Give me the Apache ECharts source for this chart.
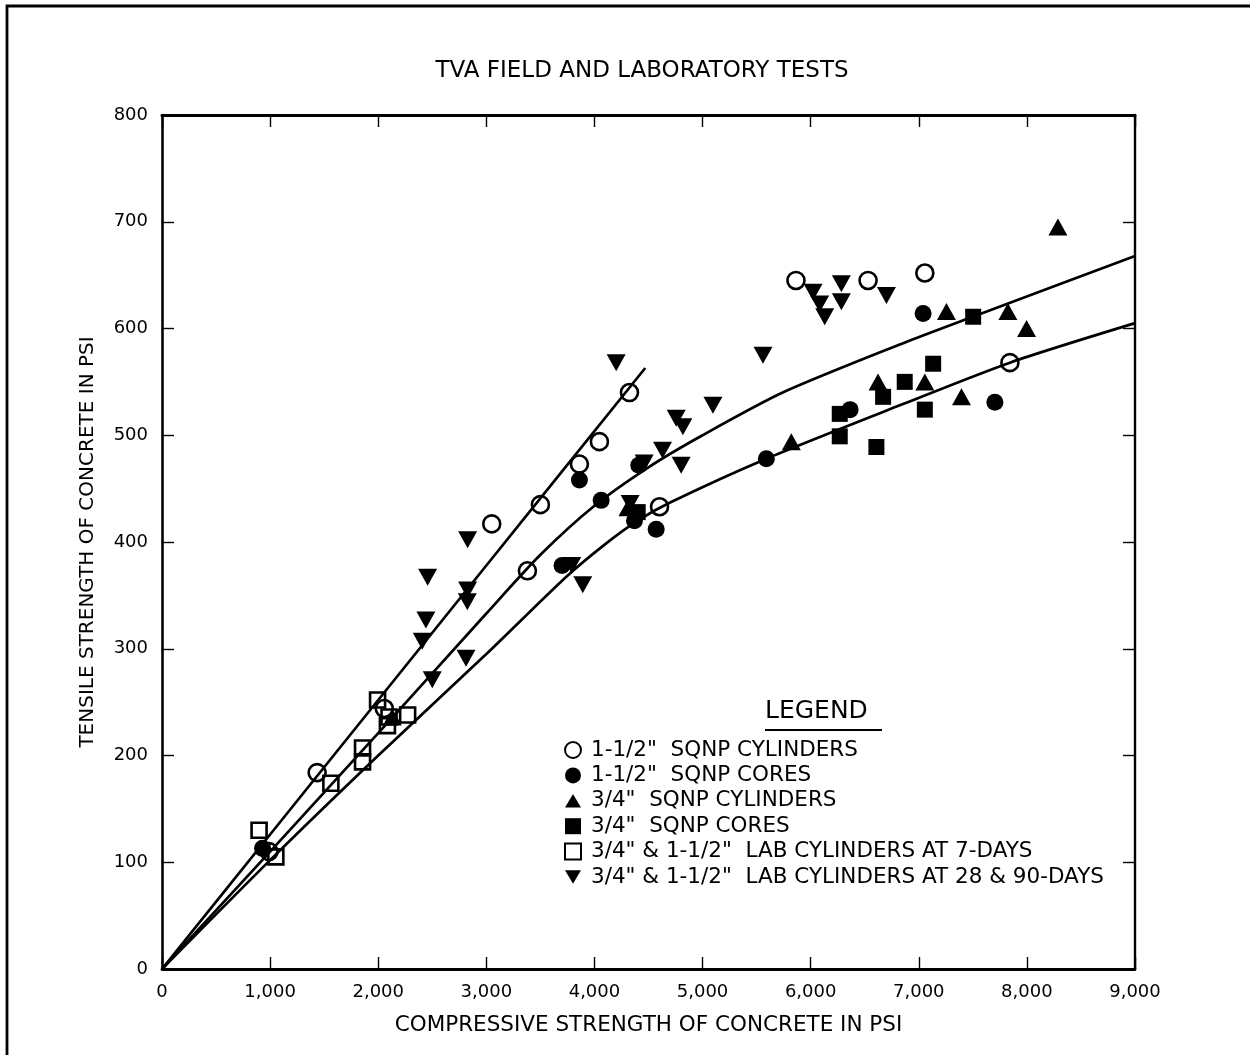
<!DOCTYPE html>
<html>
<head>
<meta charset="utf-8">
<script src="https://cdn.jsdelivr.net/npm/echarts@6/dist/echarts.min.js"></script>
<style>
  html, body { margin: 0; padding: 0; background: #fff; }
  #chart { width: 1250px; height: 1055px; }
</style>
</head>
<body>
<div id="chart"></div>
<script>
// Compressive strength (psi) vs. tensile strength (psi), TVA field & lab tests
const cylinders15 = [[990,110],[1435,184],[2056,244],[3050,417],[3380,373],[3500,435],[3861,473],[4046,494],[4324,540],[4602,433],[5864,645],[6531,645],[7056,652],[7843,568]];
const cores15 = [[930,113],[3700,378],[3861,458],[4062,439],[4370,420],[4571,412],[4410,472],[5590,478],[6365,524],[7040,614],[7704,531]];
const cylinders34 = [[2130,236],[4310,432],[5821,494],[6623,550],[7056,550],[7256,616],[7395,536],[7824,616],[7997,600],[8287,695]];
const cores34 = [[4400,428],[6269,520],[6269,499],[6608,489],[6670,536],[6870,550],[7056,524],[7133,567],[7503,611]];
const lab7 = [[898,130],[1053,105],[1562,174],[1855,207],[1855,194],[1994,252],[2100,236],[2085,228],[2272,238]];
const lab28 = [[2407,307],[2441,327],[2457,367],[2500,271],[2812,291],[2824,344],[2827,355],[2827,402],[3790,378],[3892,360],[4201,568],[4330,436],[4460,474],[4630,486],[4756,516],[4818,508],[4802,472],[5096,528],[5559,575],[6022,634],[6083,623],[6130,611],[6284,642],[6284,625],[6701,631]];

// fitted trend curves
const curveA = [[0,0],[1000,126],[2000,252],[3000,378],[4470,563]];
const curveB = [[0,0],[1000,110],[2000,221],[3000,333],[3500,388],[4000,434],[4500,470],[5000,500],[5741,540],[6824,585],[7500,611],[9000,668]];
const curveC = [[0,0],[1000,102],[2000,200],[3000,295],[3735,367],[4100,398],[4400,420],[4700,437],[5590,478],[6824,528],[7843,568],[9000,605]];

const xTicks = ['0','1,000','2,000','3,000','4,000','5,000','6,000','7,000','8,000','9,000'];
const yTicks = ['0','100','200','300','400','500','600','700','800'];

const seriesNames = [
  '1-1/2"  SQNP CYLINDERS',
  '1-1/2"  SQNP CORES',
  '3/4"  SQNP CYLINDERS',
  '3/4"  SQNP CORES',
  '3/4" & 1-1/2"  LAB CYLINDERS AT 7-DAYS',
  '3/4" & 1-1/2"  LAB CYLINDERS AT 28 & 90-DAYS'
];

const TEXT_FONT = '"DejaVu Sans", "Liberation Sans", sans-serif';
const downTri = 'path://M0,0L20,0L10,17Z';
const upTri = 'path://M10,0L20,17L0,17Z';

const chart = echarts.init(document.getElementById('chart'), null, { renderer: 'canvas' });

function curve(data) {
  return {
    type: 'line', data: data, showSymbol: false, smooth: 0.25, silent: true,
    lineStyle: { color: '#000', width: 2.7 }, z: 2
  };
}
function scatter(name, data, symbol, size, hollow) {
  return {
    type: 'scatter', name: name, data: data, symbol: symbol, symbolSize: size, z: 3,
    itemStyle: hollow
      ? { color: 'rgba(255,255,255,0)', borderColor: '#000', borderWidth: 2.6, opacity: 1 }
      : { color: '#000', borderColor: '#000', borderWidth: 0, opacity: 1 }
  };
}
function axis(extra, lineWidth) {
  return Object.assign({
    type: 'value', splitLine: { show: false },
    axisLine: { show: true, onZero: false, lineStyle: { color: '#000', width: lineWidth } },
    axisTick: { show: true, inside: true, length: 12, lineStyle: { color: '#000', width: 1.4 } }
  }, extra);
}

chart.setOption({
  animation: false,
  backgroundColor: '#fff',
  title: {
    text: 'TVA FIELD AND LABORATORY TESTS',
    left: 637, top: 55, textAlign: 'center',
    textStyle: { fontFamily: TEXT_FONT, fontSize: 23, fontWeight: 'normal', color: '#000' }
  },
  grid: { left: 162, right: 115, top: 115, bottom: 86, containLabel: false },
  xAxis: [
    axis({
      position: 'bottom', min: 0, max: 9000, interval: 1000,
      name: 'COMPRESSIVE STRENGTH OF CONCRETE IN PSI', nameLocation: 'middle', nameGap: 45,
      nameTextStyle: { fontFamily: TEXT_FONT, fontSize: 21.5, color: '#000' },
      axisLabel: { margin: 14, fontFamily: TEXT_FONT, fontSize: 18, color: '#000',
        formatter: function (v) { return xTicks[Math.round(v / 1000)]; } }
    }, 2.8),
    axis({ position: 'top', min: 0, max: 9000, interval: 1000, axisLabel: { show: false } }, 3)
  ],
  yAxis: [
    axis({
      position: 'left', min: 0, max: 800, interval: 100,
      name: 'TENSILE STRENGTH OF CONCRETE IN PSI', nameLocation: 'middle', nameGap: 64, nameRotate: 90,
      nameTextStyle: { fontFamily: TEXT_FONT, fontSize: 20, color: '#000' },
      axisLabel: { margin: 14, fontFamily: TEXT_FONT, fontSize: 18, color: '#000',
        formatter: function (v) { return yTicks[Math.round(v / 100)]; } }
    }, 2.6),
    axis({ position: 'right', min: 0, max: 800, interval: 100, axisLabel: { show: false } }, 2.4)
  ],
  legend: {
    data: seriesNames, orient: 'vertical', left: 564, top: 739, padding: 0,
    itemWidth: 16, itemHeight: 16, itemGap: 3.4,
    textStyle: { fontFamily: TEXT_FONT, fontSize: 21.5, lineHeight: 22, color: '#000', padding: [0, 0, 0, 5] },
    selectedMode: false
  },
  graphic: [
    { type: 'rect', shape: { x: 7, y: 6, width: 1300, height: 1100 },
      style: { fill: 'none', stroke: '#000', lineWidth: 2.8 }, silent: true },
    { type: 'text', left: 765, top: 699,
      style: { text: 'LEGEND', font: '25px ' + TEXT_FONT, fill: '#000' }, silent: true },
    { type: 'line', shape: { x1: 765, y1: 730, x2: 882, y2: 730 },
      style: { stroke: '#000', lineWidth: 2 }, silent: true }
  ],
  series: [
    curve(curveA), curve(curveB), curve(curveC),
    scatter(seriesNames[0], cylinders15, 'circle', 17, true),
    scatter(seriesNames[1], cores15, 'circle', 17, false),
    scatter(seriesNames[2], cylinders34, upTri, [19, 17], false),
    scatter(seriesNames[3], cores34, 'rect', 16, false),
    scatter(seriesNames[4], lab7, 'rect', 15, true),
    scatter(seriesNames[5], lab28, downTri, [19, 17], false)
  ]
});
</script>
</body>
</html>
